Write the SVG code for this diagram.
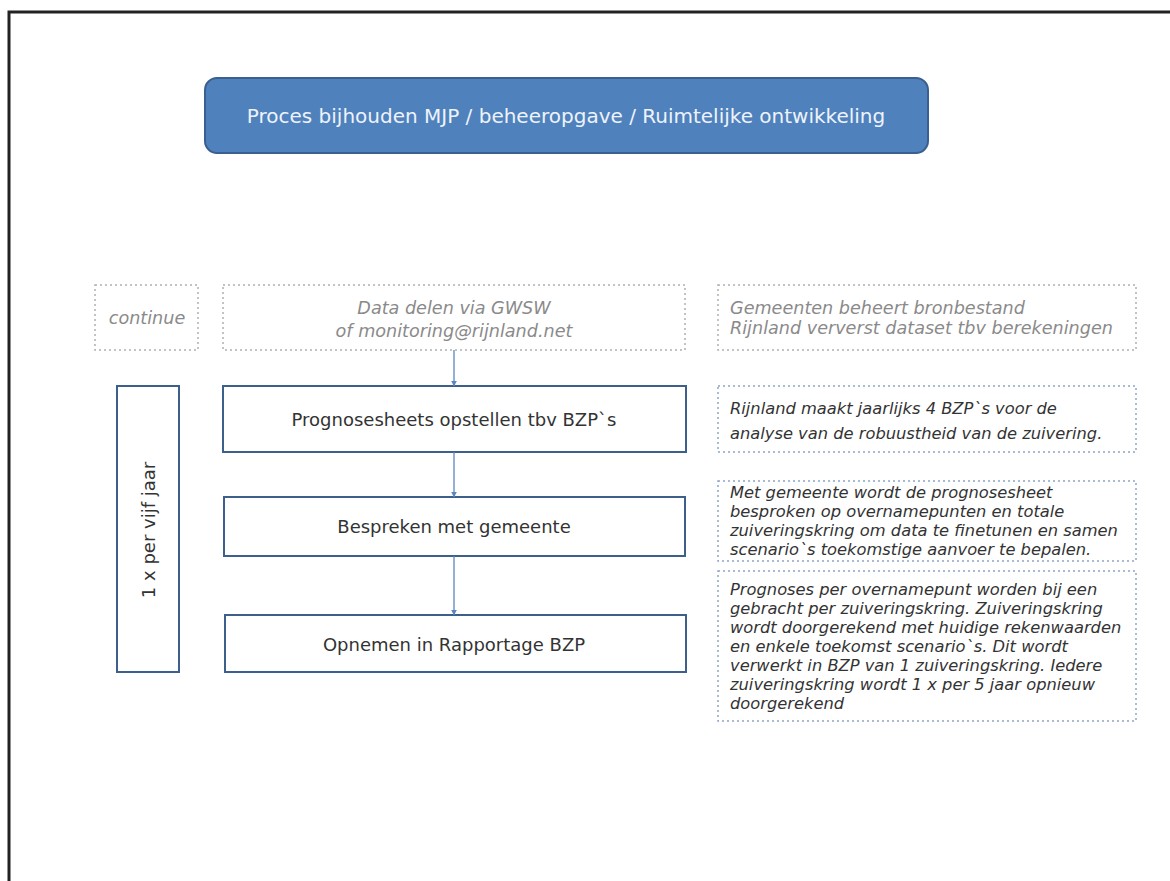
<svg xmlns="http://www.w3.org/2000/svg" width="1170" height="881" viewBox="0 0 1170 881">
<style>
text{font-family:"DejaVu Sans","Liberation Sans",sans-serif;}
.frame{fill:none;stroke:#222;stroke-width:3;}
.title{fill:#4f81bd;stroke:#3b6090;stroke-width:2;}
.tt{fill:#eef3fa;font-size:20px;text-anchor:middle;}
.grey{fill:#fff;stroke:#b0b0b0;stroke-width:1.5;stroke-dasharray:2 3;}
.gt{fill:#8a8a8a;font-size:17.6px;font-style:italic;}
.blue{fill:#fff;stroke:#8fa5c6;stroke-width:1.5;stroke-dasharray:2 3;}
.bt{fill:#333;font-size:16.3px;font-style:italic;}
.box{fill:#fff;stroke:#3d5f8c;stroke-width:2;}
.st{fill:#333;font-size:18px;text-anchor:middle;}
.con{stroke:#5b86c0;stroke-width:1.3;fill:none;marker-end:url(#ah);}
</style>
<defs>
<marker id="ah" viewBox="0 0 10 10" refX="9" refY="5" markerWidth="6" markerHeight="6" orient="auto" markerUnits="userSpaceOnUse">
<path d="M0,0 L10,5 L0,10 z" fill="#5b86c0"/>
</marker>
</defs>
<rect width="1170" height="881" fill="#fff"/>
<path class="frame" d="M9,881 V12 H1170"/>

<g id="title">
<rect class="title" x="205" y="78" width="723" height="75" rx="12"/>
<text class="tt" x="566" y="123">Proces bijhouden MJP / beheeropgave / Ruimtelijke ontwikkeling</text>
</g>

<g id="continue">
<rect class="grey" x="95" y="285" width="103" height="65"/>
<text class="gt" x="147" y="324" text-anchor="middle">continue</text>
</g>

<g id="data">
<rect class="grey" x="223" y="285" width="462" height="65"/>
<text class="gt" x="454" y="314" text-anchor="middle">Data delen via GWSW</text>
<text class="gt" x="454" y="337" text-anchor="middle">of monitoring@rijnland.net</text>
</g>

<g id="gemeenten">
<rect class="grey" x="718" y="285" width="418" height="65"/>
<text class="gt" x="730" y="314">Gemeenten beheert bronbestand</text>
<text class="gt" x="730" y="334">Rijnland ververst dataset tbv berekeningen</text>
</g>

<g id="freq">
<rect class="box" x="117" y="386" width="62" height="286"/>
<text class="st" transform="translate(155,530) rotate(-90)">1 x per vijf jaar</text>
</g>

<g id="prognose">
<rect class="box" x="223" y="386" width="463" height="66"/>
<text class="st" x="454" y="426">Prognosesheets opstellen tbv BZP`s</text>
</g>

<g id="bespreken">
<rect class="box" x="224" y="497" width="461" height="59"/>
<text class="st" x="454" y="533">Bespreken met gemeente</text>
</g>

<g id="opnemen">
<rect class="box" x="225" y="615" width="461" height="57"/>
<text class="st" x="454" y="651">Opnemen in Rapportage BZP</text>
</g>

<g id="note1">
<rect class="blue" x="718" y="386" width="418" height="66"/>
<text class="bt" x="730" y="414">Rijnland maakt jaarlijks 4 BZP`s voor de</text>
<text class="bt" x="730" y="439">analyse van de robuustheid van de zuivering.</text>
</g>

<g id="note2">
<rect class="blue" x="718" y="481" width="418" height="80"/>
<text class="bt" x="730" y="498">Met gemeente wordt de prognosesheet</text>
<text class="bt" x="730" y="517">besproken op overnamepunten en totale</text>
<text class="bt" x="730" y="536">zuiveringskring om data te finetunen en samen</text>
<text class="bt" x="730" y="555">scenario`s toekomstige aanvoer te bepalen.</text>
</g>

<g id="note3">
<rect class="blue" x="718" y="571" width="418" height="150"/>
<text class="bt" x="730" y="595">Prognoses per overnamepunt worden bij een</text>
<text class="bt" x="730" y="614">gebracht per zuiveringskring. Zuiveringskring</text>
<text class="bt" x="730" y="633">wordt doorgerekend met huidige rekenwaarden</text>
<text class="bt" x="730" y="652">en enkele toekomst scenario`s. Dit wordt</text>
<text class="bt" x="730" y="671">verwerkt in BZP van 1 zuiveringskring. Iedere</text>
<text class="bt" x="730" y="690">zuiveringskring wordt 1 x per 5 jaar opnieuw</text>
<text class="bt" x="730" y="709">doorgerekend</text>
</g>

<g id="connectors">
<line class="con" x1="454" y1="350" x2="454" y2="386"/>
<line class="con" x1="454" y1="452" x2="454" y2="497"/>
<line class="con" x1="454" y1="556" x2="454" y2="615"/>
</g>
</svg>
